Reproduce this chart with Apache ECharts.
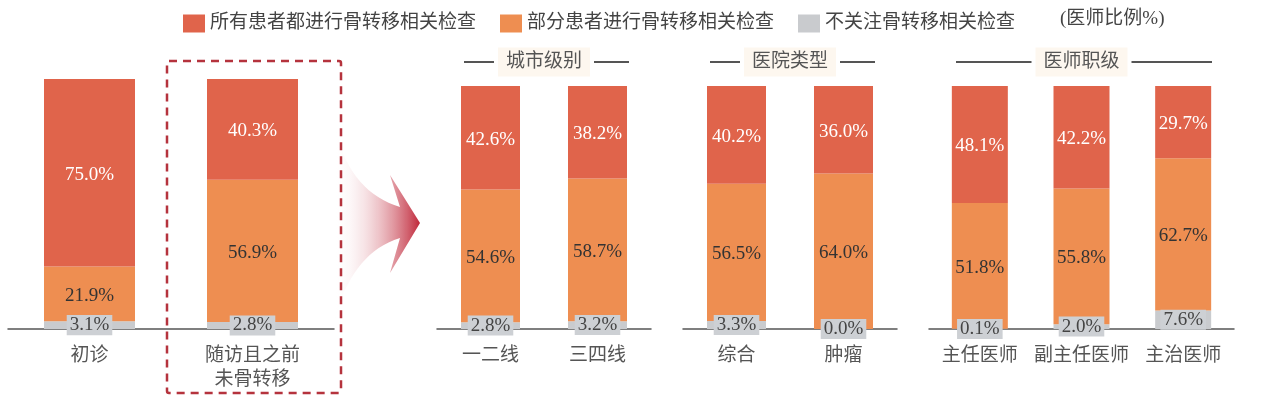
<!DOCTYPE html>
<html>
<head>
<meta charset="utf-8">
<script src="https://cdn.jsdelivr.net/npm/echarts@6/dist/echarts.min.js"></script>
<style>
  html, body { margin: 0; padding: 0; background: #fff; }
  #chart { width: 1266px; height: 401px; }
</style>
</head>
<body>
<div id="chart"></div>
<script>
// 分组类别
const catMain = ['初诊', '随访且之前\n未骨转移'];
const catCity = ['一二线', '三四线'];
const catHosp = ['综合', '肿瘤'];
const catRank = ['主任医师', '副主任医师', '主治医师'];
const groupTitles = ['城市级别', '医院类型', '医师职级'];

const seriesNames = ['所有患者都进行骨转移相关检查', '部分患者进行骨转移相关检查', '不关注骨转移相关检查'];

// 医师比例 %
const allMain = [75.0, 40.3];
const allCity = [42.6, 38.2];
const allHosp = [40.2, 36.0];
const allRank = [48.1, 42.2, 29.7];

const partMain = [21.9, 56.9];
const partCity = [54.6, 58.7];
const partHosp = [56.5, 64.0];
const partRank = [51.8, 55.8, 62.7];

const noneMain = [3.1, 2.8];
const noneCity = [2.8, 3.2];
const noneHosp = [3.3, 0.0];
const noneRank = [0.1, 2.0, 7.6];

const RED = '#e0644b', ORANGE = '#ee8e51', GRAY = '#c9cbce';
const FONT = '"Liberation Serif", "Noto Sans CJK SC", serif';

const groups = [
    {cats: catMain, all: allMain, part: partMain, none: noneMain, left: 8, width: 326, top: 79, barWidth: 91},
    {cats: catCity, all: allCity, part: partCity, none: noneCity, left: 437, width: 214, top: 86, barWidth: 59},
    {cats: catHosp, all: allHosp, part: partHosp, none: noneHosp, left: 683, width: 214, top: 86, barWidth: 59},
    {cats: catRank, all: allRank, part: partRank, none: noneRank, left: 929, width: 305, top: 86, barWidth: 56}
];
const BASE = 329;

let grids = [], xAxes = [], yAxes = [], series = [];
groups.forEach(function (g, i) {
    grids.push({left: g.left, width: g.width, top: g.top, height: BASE - g.top});
    xAxes.push({
        type: 'category', gridIndex: i, data: g.cats,
        axisLine: {lineStyle: {color: '#555', width: 1.5}},
        axisTick: {show: false},
        axisLabel: {interval: 0, color: '#555', fontSize: 19, fontFamily: FONT, margin: 15, lineHeight: 24}
    });
    yAxes.push({type: 'value', gridIndex: i, min: 0, max: 100, show: false});
    const fmt = function (p) { return p.value.toFixed(1) + '%'; };
    series.push({
        name: seriesNames[2], type: 'bar', stack: 's' + i, xAxisIndex: i, yAxisIndex: i,
        barWidth: g.barWidth, data: g.none, itemStyle: {color: GRAY}, z: 2,
        label: {show: true, position: 'inside', formatter: fmt, color: '#444', fontSize: 19,
            fontFamily: FONT, backgroundColor: '#cdd0d4', padding: [1, 3, 0, 3]}
    });
    series.push({
        name: seriesNames[1], type: 'bar', stack: 's' + i, xAxisIndex: i, yAxisIndex: i,
        barWidth: g.barWidth, data: g.part, itemStyle: {color: ORANGE},
        label: {show: true, position: 'inside', offset: [0, 2], formatter: fmt, color: '#333', fontSize: 19, fontFamily: FONT}
    });
    series.push({
        name: seriesNames[0], type: 'bar', stack: 's' + i, xAxisIndex: i, yAxisIndex: i,
        barWidth: g.barWidth, data: g.all, itemStyle: {color: RED},
        label: {show: true, position: 'inside', offset: [0, 2], formatter: fmt, color: '#fff', fontSize: 19, fontFamily: FONT}
    });
});

// 分组标题 + 两侧横线
let graphics = [];
groups.slice(1).forEach(function (g, i) {
    const cx = g.left + g.width / 2;
    const y = 62;
    graphics.push({type: 'line', shape: {x1: g.left + 27, y1: y, x2: cx - 50, y2: y},
        style: {stroke: '#555', lineWidth: 2}});
    graphics.push({type: 'line', shape: {x1: cx + 50, y1: y, x2: g.left + g.width - 22, y2: y},
        style: {stroke: '#555', lineWidth: 2}});
    graphics.push({type: 'text', x: cx, y: y, style: {
        text: groupTitles[i], fill: '#555', font: '19px ' + FONT, align: 'center', verticalAlign: 'middle',
        backgroundColor: '#fdf7ef', padding: [5, 8, 5, 8]}});
});

// 虚线框
graphics.push({type: 'rect', shape: {x: 167, y: 61, width: 174, height: 332, r: 2},
    style: {fill: 'none', stroke: '#b5333d', lineWidth: 2.5, lineDash: [8, 6]}, z: 10});

// 箭头（贝塞尔曲线折成多边形）
function bez(p0, p1, p2, p3, n) {
    let pts = [];
    for (let k = 0; k <= n; k++) {
        const t = k / n, u = 1 - t;
        pts.push([
            u * u * u * p0[0] + 3 * u * u * t * p1[0] + 3 * u * t * t * p2[0] + t * t * t * p3[0],
            u * u * u * p0[1] + 3 * u * u * t * p1[1] + 3 * u * t * t * p2[1] + t * t * t * p3[1]
        ]);
    }
    return pts;
}
const arrowPts = [].concat(
    bez([333, 110], [338, 160], [360, 195], [400, 207], 20),
    [[390, 175], [420, 223], [390, 273]],
    bez([400, 238], [360, 250], [340, 290], [333, 330], 20)
);
graphics.push({type: 'polygon', z: 0, shape: {points: arrowPts},
    style: {fill: new echarts.graphic.LinearGradient(0, 0, 1, 0, [
        {offset: 0, color: 'rgba(255,255,255,0)'},
        {offset: 1, color: '#c0283a'}])}});

graphics.push({type: 'text', x: 1060, y: 19, style: {
    text: '(医师比例%)', fill: '#444', font: '19px ' + FONT, verticalAlign: 'middle'}});

const option = {
    animation: false,
    legend: {
        data: seriesNames, left: 178, top: 9, icon: 'rect', itemWidth: 22, itemHeight: 18, itemGap: 24,
        textStyle: {color: '#444', fontSize: 19, fontFamily: FONT}
    },
    grid: grids,
    xAxis: xAxes,
    yAxis: yAxes,
    series: series,
    graphic: graphics
};

let myChart = echarts.init(document.getElementById('chart'));
myChart.setOption(option);
</script>
</body>
</html>
